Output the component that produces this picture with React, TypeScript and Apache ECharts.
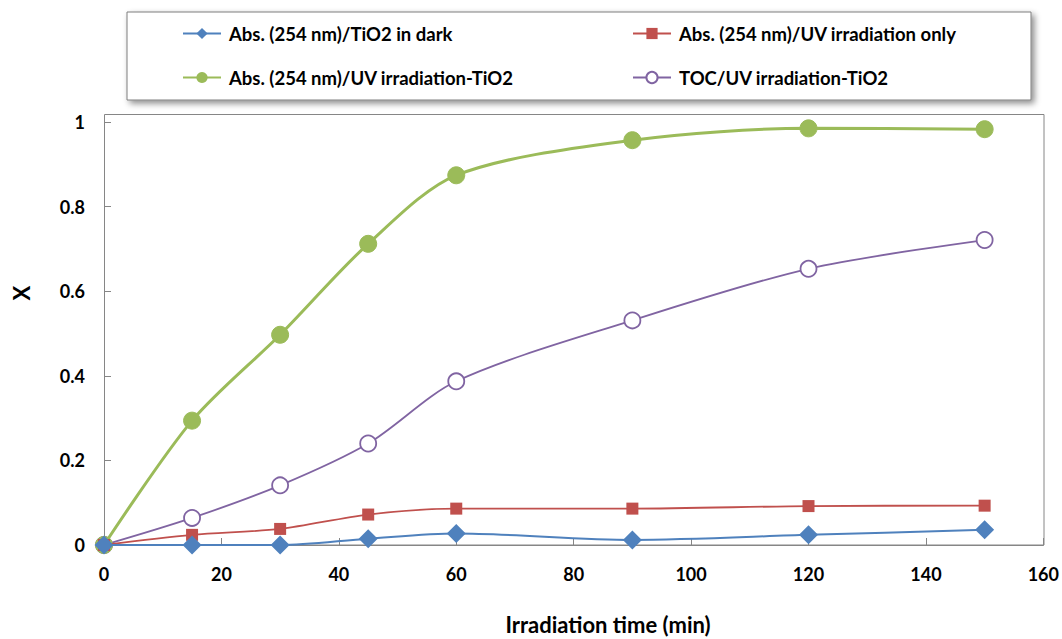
import React, { useEffect, useRef } from "react";
import * as echarts from "echarts";

const times = [0, 15, 30, 45, 60, 90, 120, 150];
const darkTiO2 = [0, 0, 0, 0.015, 0.027, 0.012, 0.024, 0.036];
const uvOnly = [0, 0.024, 0.038, 0.072, 0.086, 0.086, 0.092, 0.093];
const uvTiO2 = [0, 0.294, 0.497, 0.712, 0.874, 0.957, 0.985, 0.983];
const tocUvTiO2 = [0, 0.064, 0.141, 0.24, 0.387, 0.531, 0.653, 0.721];
const seriesNames = [
  "Abs. (254 nm)/TiO2 in dark",
  "Abs. (254 nm)/UV irradiation only",
  "Abs. (254 nm)/UV irradiation-TiO2",
  "TOC/UV irradiation-TiO2",
];
const yTicks = [0, 0.2, 0.4, 0.6, 0.8, 1];
const xTicks = [0, 20, 40, 60, 80, 100, 120, 140, 160];
const xTitle = "Irradiation time (min)";
const yTitle = "X";

const FONT = "Lato, 'Open Sans', sans-serif";

function pairs(vals: number[]) {
  return times.map((t, i) => [t, vals[i]]);
}

export default function App() {
  const ref = useRef<HTMLDivElement>(null);
  useEffect(() => {
    const chart = echarts.init(ref.current!, null, { renderer: "svg" });
    const gray = "#868686";
    const legendText = {
      fontFamily: FONT,
      fontWeight: "bold",
      fontSize: 18.5,
      color: "#000",
      padding: [0, 0, 0, 3],
    };
    chart.setOption({
      animation: false,
      backgroundColor: "#fff",
      grid: { left: 104, right: 18, top: 122, bottom: 94 },
      legend: [
        {
          data: [seriesNames[0], seriesNames[2]],
          orient: "vertical",
          left: 182,
          top: 24,
          padding: 0,
          itemWidth: 38,
          itemHeight: 14,
          itemGap: 25,
          textStyle: legendText,
        },
        {
          data: [seriesNames[1], seriesNames[3]],
          orient: "vertical",
          left: 632,
          top: 24,
          padding: 0,
          itemWidth: 38,
          itemHeight: 14,
          itemGap: 25,
          textStyle: legendText,
        },
      ],
      graphic: [
        {
          type: "rect",
          z: -1,
          shape: { x: 127, y: 12, width: 904, height: 88 },
          style: {
            fill: "#fff",
            stroke: "#7f7f7f",
            lineWidth: 1,
            shadowBlur: 6,
            shadowOffsetX: 3,
            shadowOffsetY: 3,
            shadowColor: "rgba(0,0,0,0.45)",
          },
        },
        {
          type: "rect",
          z: 0,
          silent: true,
          shape: { x: 104.5, y: 114.5, width: 939.5, height: 430.5 },
          style: { fill: "none", stroke: gray, lineWidth: 1 },
        },
        {
          type: "text",
          x: 608,
          y: 624,
          style: {
            text: xTitle,
            fontFamily: FONT,
            fontWeight: "bold",
            fontSize: 22,
            fill: "#000",
            align: "center",
            verticalAlign: "middle",
          },
        },
        {
          type: "text",
          x: 21,
          y: 293,
          rotation: Math.PI / 2,
          style: {
            text: yTitle,
            fontFamily: FONT,
            fontWeight: "bold",
            fontSize: 22,
            fill: "#000",
            align: "center",
            verticalAlign: "middle",
          },
        },
      ],
      xAxis: {
        type: "value",
        min: 0,
        max: 160,
        interval: 20,
        axisLine: { lineStyle: { color: gray } },
        axisTick: { inside: true, length: 7, lineStyle: { color: gray } },
        axisLabel: {
          fontFamily: FONT,
          fontWeight: "bold",
          fontSize: 18,
          color: "#000",
          margin: 20,
          formatter: (v: number) => (xTicks.includes(v) ? String(v) : ""),
        },
        splitLine: { show: false },
      },
      yAxis: {
        type: "value",
        min: 0,
        max: 1,
        interval: 0.2,
        axisLine: { show: true, lineStyle: { color: gray } },
        axisTick: { show: true, inside: true, length: 7, lineStyle: { color: gray } },
        axisLabel: {
          fontFamily: FONT,
          fontWeight: "bold",
          fontSize: 18,
          color: "#000",
          margin: 19,
          formatter: (v: number) => {
            const t = yTicks.find((y) => Math.abs(y - v) < 1e-9);
            return t === undefined ? "" : String(t);
          },
        },
        splitLine: { show: false },
      },
      series: [
        {
          name: seriesNames[3],
          type: "line",
          data: pairs(tocUvTiO2),
          smooth: 0.3,
          symbol: "circle",
          symbolSize: 16,
          z: 2,
          lineStyle: { color: "#8064A2", width: 1.8 },
          itemStyle: { color: "#fff", borderColor: "#8064A2", borderWidth: 1.8 },
        },
        {
          name: seriesNames[2],
          type: "line",
          data: pairs(uvTiO2),
          smooth: 0.3,
          symbol: "circle",
          symbolSize: 17,
          z: 3,
          lineStyle: { color: "#9BBB59", width: 3 },
          itemStyle: { color: "#9BBB59", borderColor: "#9BBB59" },
        },
        {
          name: seriesNames[1],
          type: "line",
          data: pairs(uvOnly),
          smooth: 0.3,
          symbol: "rect",
          symbolSize: 12,
          z: 4,
          lineStyle: { color: "#C0504D", width: 1.8 },
          itemStyle: { color: "#C0504D" },
        },
        {
          name: seriesNames[0],
          type: "line",
          data: pairs(darkTiO2),
          smooth: 0.3,
          symbol: "diamond",
          symbolSize: [19, 19],
          z: 5,
          lineStyle: { color: "#4F81BD", width: 2 },
          itemStyle: { color: "#4F81BD" },
        },
      ],
    });
    return () => chart.dispose();
  }, []);
  return <div ref={ref} style={{ width: 1062, height: 639, position: "absolute", left: 0, top: 0 }} />;
}
